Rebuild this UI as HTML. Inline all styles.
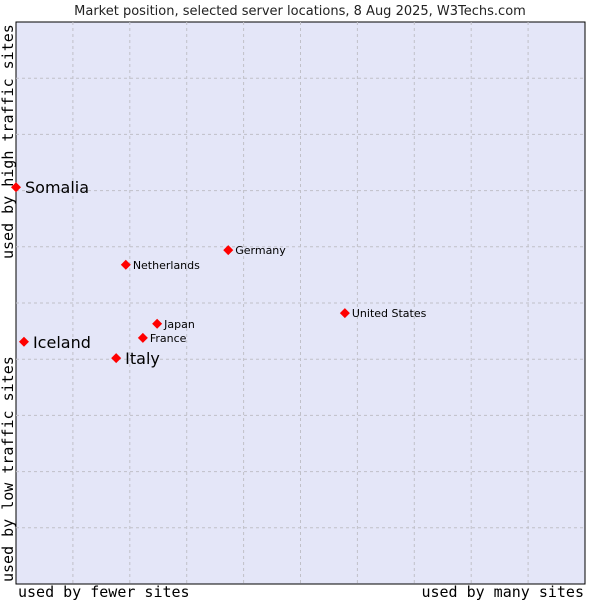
<!DOCTYPE html>
<html><head><meta charset="utf-8"><style>
body{margin:0;background:#fff;width:600px;height:600px;overflow:hidden}
svg{display:block}
</style></head><body>
<svg width="600" height="600">
<text x="300" y="15" text-anchor="middle" font-family="DejaVu Sans, sans-serif" font-size="13" fill="#222">Market position, selected server locations, 8 Aug 2025, W3Techs.com</text>
<rect x="16" y="22" width="569" height="562" fill="#e4e6f8" stroke="#000" stroke-width="1"/>
<g id="grid"></g>
<g id="pts"></g>
<text x="18" y="597" font-family="DejaVu Sans Mono, monospace" font-size="15" fill="#000">used by fewer sites</text>
<text x="584" y="597" text-anchor="end" font-family="DejaVu Sans Mono, monospace" font-size="15" fill="#000">used by many sites</text>
<text transform="translate(13,582) rotate(-90)" font-family="DejaVu Sans Mono, monospace" font-size="15" fill="#000">used by low traffic sites</text>
<text transform="translate(13,259) rotate(-90)" font-family="DejaVu Sans Mono, monospace" font-size="15" fill="#000">used by high traffic sites</text>
</svg>
<script>
const names=["Somalia","Iceland","Italy","Netherlands","Germany","Japan","France","United States"];
const xs=[0,1.4,17.6,19.3,37.3,24.8,22.3,57.8];
const ys=[70.6,43.1,40.2,56.8,59.4,46.3,43.8,48.2];
const big=[true,true,true,false,false,false,false,false];
const L=16,T=22,W=569,H=562,NS="http://www.w3.org/2000/svg";
const sx=v=>L+v/100*W, sy=v=>T+H-v/100*H;
const g=document.getElementById('grid');
for(let i=1;i<10;i++){
 const v=document.createElementNS(NS,'line');
 
 
 v.setAttribute('x1',sx(i*10));v.setAttribute('x2',sx(i*10));v.setAttribute('y1',T);v.setAttribute('y2',T+H);
 v.setAttribute('stroke','#c0c0c8');v.setAttribute('stroke-dasharray','3,3');g.appendChild(v);
 const h=document.createElementNS(NS,'line');
 
 
 h.setAttribute('y1',sy(i*10));h.setAttribute('y2',sy(i*10));h.setAttribute('x1',L);h.setAttribute('x2',L+W);
 h.setAttribute('stroke','#c0c0c8');h.setAttribute('stroke-dasharray','3,3');g.appendChild(h);
}
const p=document.getElementById('pts');
names.forEach((n,i)=>{
 const x=sx(xs[i]),y=sy(ys[i]);
 const d=document.createElementNS(NS,'path');
 
 
 d.setAttribute('d',`M${x-5},${y}L${x},${y-5}L${x+5},${y}L${x},${y+5}Z`);
 d.setAttribute('fill','#f00');p.appendChild(d);
 const t=document.createElementNS(NS,'text');
 
 
 t.setAttribute('x',x+(big[i]?9:7));t.setAttribute('y',y+(big[i]?6:4));
 t.setAttribute('font-family','DejaVu Sans, sans-serif');t.setAttribute('font-size',big[i]?16:11);
 t.setAttribute('fill','#000');t.textContent=n;p.appendChild(t);
});
</script>
</body></html>
